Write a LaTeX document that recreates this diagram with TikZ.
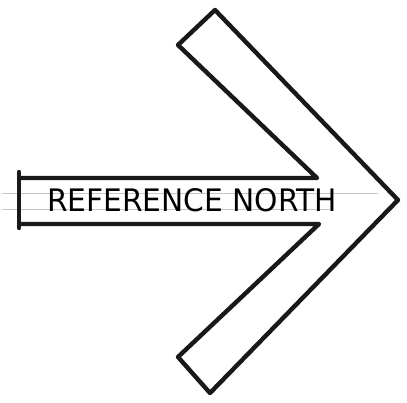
\documentclass[tikz,border=0pt]{standalone}
\usepackage{fontspec}
\setsansfont{DejaVu Sans}
\begin{document}
\begin{tikzpicture}[x=1pt,y=-1pt,
  ink/.style={line width=4.4pt,line join=round,line cap=round,black!90},
  guide/.style={line width=0.6pt,gray!45}]
\useasboundingbox (0,0) rectangle (407,403);
% faint guide lines
\draw[guide] (2,193) -- (378,193);
\draw[guide] (2,209) -- (330,209);
% arrow outline
\draw[ink] (19,178) -- (317,178) -- (178,45) -- (215,10) -- (398,200)
  -- (210,393) -- (178,357) -- (319,224) -- (19,224);
\draw[ink] (19,172) -- (19,228);
% label
\node[inner sep=0pt,anchor=south west] (label) at (47,212)
  {\resizebox{290pt}{23pt}{\sffamily\mdseries REFERENCE NORTH}};
\end{tikzpicture}
\end{document}
